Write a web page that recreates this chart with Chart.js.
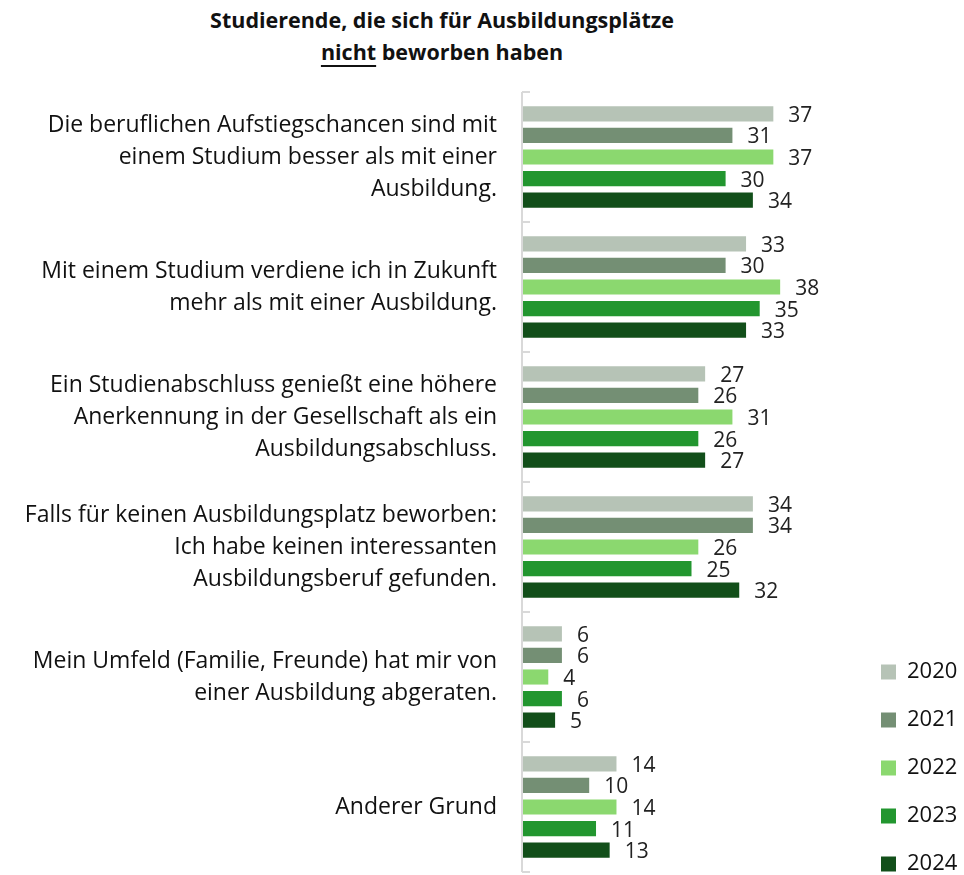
<!DOCTYPE html>
<html>
<head>
<meta charset="utf-8">
<script src="https://cdn.jsdelivr.net/npm/chart.js@4.4.0/dist/chart.umd.min.js"></script>
<style>
  body { margin: 0; background: #fff; }
  #wrap { position: relative; width: 964px; height: 875px; }
  #title {
    position: absolute; left: 0; top: 4px; width: 884px;
    text-align: center; font: bold 21.5px "Open Sans", sans-serif; line-height: 32px; color: #111;
  }
  #title u { text-decoration-thickness: 2px; text-underline-offset: 5px; }
  canvas { position: absolute; left: 0; top: 0; }
</style>
</head>
<body>
<div id="wrap">
  <div id="title">Studierende, die sich für Ausbildungsplätze<br><u>nicht</u> beworben haben</div>
  <canvas id="chart" width="964" height="875"></canvas>
</div>
<script>
const categories = [
    ["Die beruflichen Aufstiegschancen sind mit", "einem Studium besser als mit einer", "Ausbildung."],
    ["Mit einem Studium verdiene ich in Zukunft", "mehr als mit einer Ausbildung."],
    ["Ein Studienabschluss genießt eine höhere", "Anerkennung in der Gesellschaft als ein", "Ausbildungsabschluss."],
    ["Falls für keinen Ausbildungsplatz beworben:", "Ich habe keinen interessanten", "Ausbildungsberuf gefunden."],
    ["Mein Umfeld (Familie, Freunde) hat mir von", "einer Ausbildung abgeraten."],
    "Anderer Grund"
]
const years = ["2020", "2021", "2022", "2023", "2024"]
const values2020 = [37, 33, 27, 34, 6, 14]
const values2021 = [31, 30, 26, 34, 6, 10]
const values2022 = [37, 38, 31, 26, 4, 14]
const values2023 = [30, 35, 26, 25, 6, 11]
const values2024 = [34, 33, 27, 32, 5, 13]
const colors = ["#b6c3b6", "#748f74", "#8bd86f", "#22962f", "#124f1a"]

const series = [values2020, values2021, values2022, values2023, values2024]

// zahlen rechts neben den balken
const valueLabels = {
    id: 'valueLabels',
    afterDatasetsDraw(chart) {
        let ctx = chart.ctx
        ctx.save()
        ctx.font = '21px "Open Sans"'
        ctx.fillStyle = '#222'
        ctx.textBaseline = 'middle'
        ctx.textAlign = 'left'
        chart.data.datasets.forEach((ds, i) => {
            chart.getDatasetMeta(i).data.forEach((bar, j) => {
                ctx.fillText(ds.data[j], bar.x + 15, bar.y + 2)
            })
        })
        ctx.restore()
    }
}

// y-achse mit kleinen strichen zwischen den gruppen
const axisTicks = {
    id: 'axisTicks',
    afterDraw(chart) {
        let ctx = chart.ctx
        let y = chart.scales.y
        let left = chart.chartArea.left + 1
        ctx.save()
        ctx.strokeStyle = '#d9d9d9'
        ctx.lineWidth = 2
        let top = y.getPixelForValue(-0.5)
        let bottom = y.getPixelForValue(categories.length - 0.5)
        ctx.beginPath()
        ctx.moveTo(left, top)
        ctx.lineTo(left, bottom)
        for (let i = 0; i <= categories.length; i++) {
            let py = y.getPixelForValue(i - 0.5)
            ctx.moveTo(left, py)
            ctx.lineTo(left + 8, py)
        }
        ctx.stroke()
        ctx.restore()
    }
}

// legende nach unten rechts schieben
const legendPos = {
    id: 'legendPos',
    afterLayout(chart) {
        let lg = chart.legend
        lg.left = 855
        lg.right = 964
        lg.bottom = 901
    }
}

const data = {
    labels: categories,
    datasets: series.map((vals, i) => ({
        label: years[i],
        data: vals,
        backgroundColor: colors[i],
        borderWidth: 0,
        barPercentage: 0.7,
        categoryPercentage: 0.83
    }))
}

const config = {
    type: 'bar',
    data: data,
    options: {
        indexAxis: 'y',
        responsive: false,
        animation: false,
        layout: { padding: { top: 92, bottom: 3, right: 4, left: 0 } },
        scales: {
            x: { display: false, min: 0, max: 50 },
            y: {
                afterFit(scale) {
                    scale.width = 521
                    scale.paddingTop = 0
                    scale.paddingBottom = 0
                },
                grid: { display: false, drawTicks: false },
                border: { display: false },
                ticks: {
                    padding: 24,
                    color: '#111',
                    font: { family: 'Open Sans', size: 23, lineHeight: 1.39 }
                }
            }
        },
        plugins: {
            legend: {
                position: 'right',
                align: 'end',
                maxWidth: 98,
                labels: {
                    boxWidth: 15,
                    boxHeight: 15,
                    padding: 26,
                    color: '#111',
                    font: { family: 'Open Sans', size: 22 }
                }
            },
            tooltip: { enabled: false }
        }
    },
    plugins: [valueLabels, axisTicks, legendPos]
}

let ctx = document.getElementById("chart").getContext("2d")
new Chart(ctx, config)
</script>
</body>
</html>
